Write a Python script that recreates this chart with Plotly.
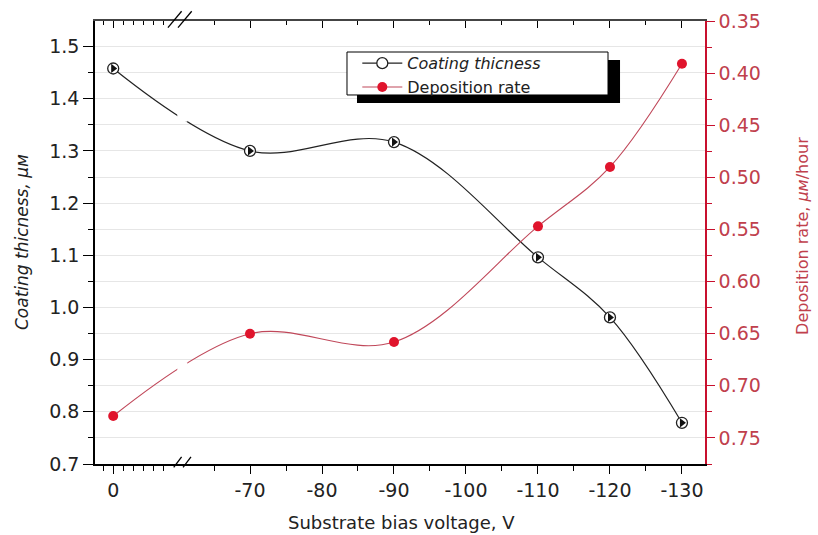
import plotly.graph_objects as go

# ---- data ----
voltage = [0, -70, -90, -110, -120, -130]
thickness = [1.458, 1.300, 1.317, 1.096, 0.981, 0.779]
dep_rate = [0.729, 0.650, 0.658, 0.547, 0.490, 0.391]
x_tick_voltages = [0, -70, -80, -90, -100, -110, -120, -130]
x_tick_labels = ["0", "-70", "-80", "-90", "-100", "-110", "-120", "-130"]
left_ticks = [0.7, 0.8, 0.9, 1.0, 1.1, 1.2, 1.3, 1.4, 1.5]
right_ticks = [0.35, 0.40, 0.45, 0.50, 0.55, 0.60, 0.65, 0.70, 0.75]

# ---- broken-axis mapping (0 V segment placed left of the break) ----
ZERO_POS = 51.0      # axis position of the 0 V point
LEFT_STEP = 1.39     # minor tick spacing in the left segment


def to_axis(v):
    return ZERO_POS - v / 10.0 * LEFT_STEP if v > -60 else -v


xs = [to_axis(v) for v in voltage]
major_pos = [to_axis(v) for v in x_tick_voltages]
minor_pos = [ZERO_POS + k * LEFT_STEP for k in (-1, 1, 2, 3, 4, 5)] + list(range(65, 130, 10))
XR = [48.47, 133.2]

FONT = "DejaVu Sans"
RED = "#c8102e"
RED_TXT = "#c0404c"

fig = go.Figure()

fig.add_trace(go.Scatter(
    x=xs, y=thickness, name="<i>Coating thicness</i>", mode="lines+markers",
    line=dict(color="#222222", width=1.2, shape="spline"),
    marker=dict(symbol="circle", size=11, color="white", line=dict(color="#222222", width=1.3)),
))
fig.add_trace(go.Scatter(
    x=xs, y=thickness, mode="markers", showlegend=False, hoverinfo="skip",
    marker=dict(symbol="triangle-right", size=8, color="#111111"),
))
fig.add_trace(go.Scatter(
    x=xs, y=dep_rate, name="Deposition rate", mode="lines+markers", yaxis="y2",
    line=dict(color="#c0485a", width=1.1, shape="spline"),
    marker=dict(symbol="circle", size=10, color="#e0142c"),
))
# invisible trace to carry the top mirror axis
fig.add_trace(go.Scatter(x=XR, y=[1.0, 1.0], xaxis="x2", mode="lines",
                         line=dict(width=0), showlegend=False, hoverinfo="skip"))

shapes = []
# legend shadow and legend box
shapes.append(dict(type="rect", xref="paper", yref="paper",
                   x0=0.4295, x1=0.8607, y0=0.815, y1=0.912,
                   fillcolor="black", line=dict(width=0), layer="above"))
shapes.append(dict(type="rect", xref="paper", yref="paper",
                   x0=0.4131, x1=0.841, y0=0.833, y1=0.930,
                   fillcolor="white", line=dict(width=1, color="black"), layer="above"))
# gaps in curves at the axis break
shapes.append(dict(type="rect", xref="x", yref="y", x0=59.9, x1=61.3, y0=1.356, y1=1.396,
                   fillcolor="white", line=dict(width=0), layer="above"))
shapes.append(dict(type="rect", xref="x", yref="y", x0=59.9, x1=61.3, y0=0.856, y1=0.895,
                   fillcolor="white", line=dict(width=0), layer="above"))
# break marks on bottom and top axes
for (xa, xb) in ((59.4, 60.5), (60.7, 61.8)):
    shapes.append(dict(type="line", xref="x", yref="paper", x0=xa, x1=xb, y0=-0.0075, y1=0.016,
                       line=dict(color="black", width=1.3), layer="above"))
for (xa, xb) in ((58.6, 60.5), (60.0, 61.9)):
    shapes.append(dict(type="line", xref="x", yref="paper", x0=xa, x1=xb, y0=0.985, y1=1.022,
                       line=dict(color="black", width=1.3), layer="above"))

annotations = [
    dict(text="<i>Coating thicness, μм</i>", xref="paper", yref="paper", x=-0.1197, y=0.501,
         textangle=-90, showarrow=False, xanchor="center", yanchor="middle",
         font=dict(family=FONT, size=17, color="#222222")),
    dict(text="Deposition rate, <i>μм</i>/hour", xref="paper", yref="paper", x=1.1607, y=0.515,
         textangle=-90, showarrow=False, xanchor="center", yanchor="middle",
         font=dict(family=FONT, size=16, color=RED_TXT)),
    dict(text="Substrate bias voltage, V", xref="paper", yref="paper", x=0.502, y=-0.133,
         showarrow=False, xanchor="center", yanchor="middle",
         font=dict(family=FONT, size=18, color="#222222")),
]

fig.update_layout(
    width=818, height=535,
    margin=dict(l=95, r=113, t=21, b=71, autoexpand=False),
    paper_bgcolor="white", plot_bgcolor="white",
    font=dict(family=FONT, size=18, color="#222222"),
    showlegend=True,
    legend=dict(x=0.43, y=0.943, xanchor="left", yanchor="top",
                bgcolor="rgba(0,0,0,0)", borderwidth=0,
                font=dict(family=FONT, size=16, color="#222222"),
                tracegroupgap=0, itemwidth=40),
    xaxis=dict(range=XR, tickmode="array", tickvals=major_pos, ticktext=x_tick_labels,
               ticks="outside", ticklen=8, tickwidth=1.3, tickcolor="black",
               showline=True, linecolor="black", linewidth=1.5, showgrid=False, zeroline=False,
               tickfont=dict(size=19), automargin=False,
               minor=dict(tickmode="array", tickvals=minor_pos, ticks="outside", ticklen=5,
                          tickcolor="black", showgrid=False)),
    xaxis2=dict(range=XR, overlaying="x", side="top", anchor="y", tickmode="array",
                tickvals=major_pos, ticks="inside", ticklen=7, tickcolor="black",
                showticklabels=False, showline=True, linecolor="#444444", linewidth=1.5,
                showgrid=False, zeroline=False, automargin=False,
                minor=dict(tickmode="array", tickvals=minor_pos, ticks="inside", ticklen=4,
                           tickcolor="black", showgrid=False)),
    yaxis=dict(range=[0.7, 1.549], tickmode="array", tickvals=left_ticks,
               ticktext=[f"{v:.1f}" for v in left_ticks],
               ticks="outside", ticklen=10, tickwidth=1.3, tickcolor="black",
               showline=True, linecolor="black", linewidth=1.5, zeroline=False,
               showgrid=True, gridcolor="#e6e6e6", gridwidth=1, automargin=False,
               minor=dict(dtick=0.05, tick0=0.7, ticks="outside", ticklen=5, tickcolor="black",
                          showgrid=True, gridcolor="#e6e6e6"),
               tickfont=dict(size=19)),
    yaxis2=dict(range=[0.775, 0.35], overlaying="y", side="right", anchor="x",
                tickmode="array", tickvals=right_ticks, ticktext=[f"{v:.2f}" for v in right_ticks],
                ticks="outside", ticklen=8, tickwidth=1.3, tickcolor=RED,
                showline=True, linecolor=RED, linewidth=1.5, showgrid=False, zeroline=False,
                automargin=False,
                minor=dict(dtick=0.025, tick0=0.35, ticks="outside", ticklen=5, tickcolor=RED,
                           showgrid=False),
                tickfont=dict(size=19, color=RED_TXT)),
    shapes=shapes,
    annotations=annotations,
)

fig.write_html("out.html", config={"displayModeBar": False},
               post_script="document.body.style.margin='0px';document.body.style.overflow='hidden';")
